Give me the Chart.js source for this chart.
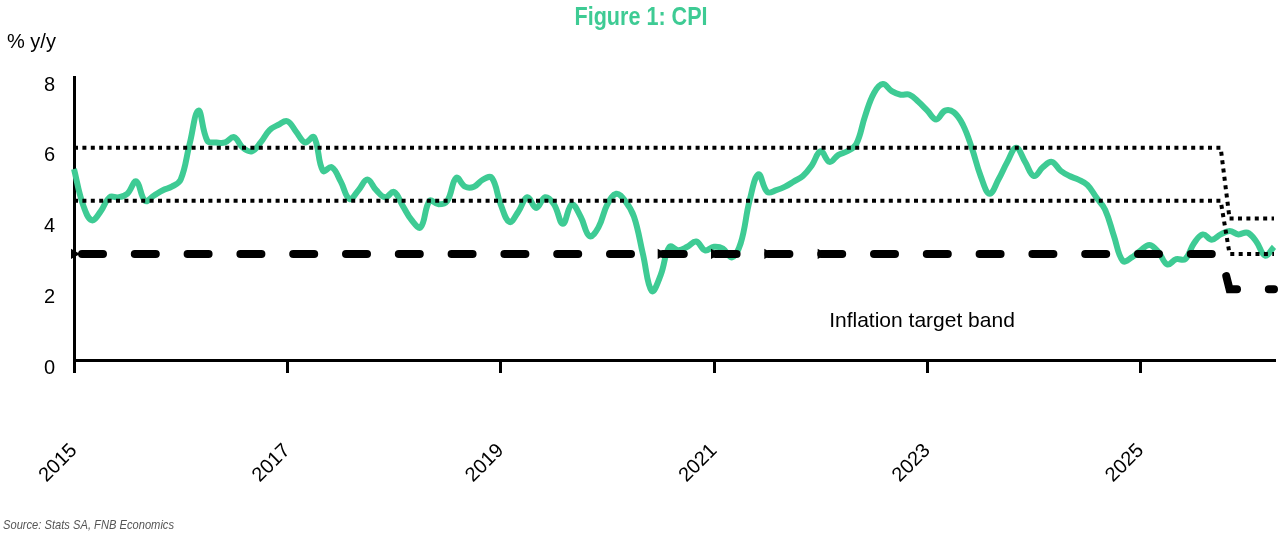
<!DOCTYPE html>
<html>
<head>
<meta charset="utf-8">
<script src="https://cdn.jsdelivr.net/npm/chart.js@4.4.1/dist/chart.umd.min.js"></script>
<style>
  html, body { margin: 0; padding: 0; background: #ffffff; }
  #wrap { width: 1280px; height: 536px; position: relative; }
</style>
</head>
<body>
<div id="wrap"><canvas id="c" width="1280" height="536"></canvas></div>
<script>
// ---- data ----
// monthly observations, month-end dates from Dec 2014 to Mar 2026
const startYear = 2014, startMonth = 12, monthCount = 136;
const months = [];
for (let k = 0; k < monthCount; k++) {
  const m = (startMonth - 1 + k) % 12 + 1;
  const y = startYear + Math.floor((startMonth - 1 + k) / 12);
  months.push(y + '-' + String(m).padStart(2, '0'));
}

const cpi = [
  5.4, 4.4, 3.95, 4.2, 4.6, 4.6, 4.7, 5.05, 4.5, 4.65, 4.8, 4.9,      // Dec14-Nov15
  5.1, 6.1, 7.05, 6.2, 6.15, 6.15, 6.3, 6.0, 5.9, 6.15, 6.5, 6.65,    // Dec15-Nov16
  6.75, 6.45, 6.15, 6.3, 5.35, 5.45, 5.05, 4.55, 4.8, 5.1, 4.8, 4.6,  // Dec16-Nov17
  4.75, 4.35, 3.95, 3.75, 4.5, 4.4, 4.5, 5.15, 4.9, 4.9, 5.1, 5.15,   // Dec17-Nov18
  4.4, 3.9, 4.2, 4.6, 4.3, 4.6, 4.4, 3.85, 4.4, 4.05, 3.5, 3.75,      // Dec18-Nov19
  4.4, 4.7, 4.5, 4.05, 3.0, 1.95, 2.4, 3.2, 3.1, 3.2, 3.35, 3.1,      // Dec19-Nov20
  3.2, 3.15, 2.9, 3.3, 4.5, 5.25, 4.75, 4.8, 4.9, 5.05, 5.2, 5.5,     // Dec20-Nov21
  5.9, 5.6, 5.8, 5.9, 6.1, 6.9, 7.55, 7.8, 7.6, 7.5, 7.5, 7.3,        // Dec21-Nov22
  7.05, 6.8, 7.05, 7.0, 6.65, 6.0, 5.2, 4.7, 5.1, 5.6, 6.0, 5.6,      // Dec22-Nov23
  5.2, 5.45, 5.6, 5.35, 5.2, 5.1, 4.95, 4.6, 4.25, 3.5, 2.8, 2.9,     // Dec23-Nov24
  3.1, 3.25, 3.05, 2.7, 2.85, 2.85, 3.3, 3.55, 3.4, 3.55, 3.65, 3.55, // Dec24-Nov25
  3.6, 3.35, 2.95, 3.2                                                // Dec25-Mar26
];

// inflation target band: old 3-6% (midpoint 4.5%), new 3% target with 2-4% band
const bandDates = ['2014-12', '2025-09', '2025-10', '2026-03'];
const bandUpper = [6, 6, 4, 4];
const bandMid   = [4.5, 4.5, 3, 3];
const bandLower = [3, 3, 2, 2];

// small arrow markers on the lower band line
const markerDates = ['2014-12', '2020-06', '2020-12', '2021-06', '2021-12'];
const markerValues = [3, 3, 3, 3, 3];

const yTicks = [0, 2, 4, 6, 8];
const tickEveryMonths = 24;

const titleText = 'Figure 1: CPI';
const unitText = '% y/y';
const bandText = 'Inflation target band';
const sourceText = 'Source: Stats SA, FNB Economics';

// ---- styles ----
const GREEN = '#3ECB94';
const sans = "'Liberation Sans', Arial, 'DejaVu Sans', sans-serif";

const toXY = (dates, vals) => dates.map((d, k) => ({ x: d, y: vals[k] }));

// draw text horizontally condensed to a target width (keeps it real text)
function condensedText(ctx, text, x, y, targetW, align) {
  const w = ctx.measureText(text).width;
  const sx = Math.min(1, targetW / w);
  ctx.save();
  ctx.translate(x, y);
  ctx.scale(sx, 1);
  ctx.textAlign = align;
  ctx.fillText(text, 0, 0);
  ctx.restore();
}

const textPlugin = {
  id: 'texts',
  afterDraw(chart) {
    const ctx = chart.ctx;
    const xs = chart.scales.x, ys = chart.scales.y;
    ctx.save();
    ctx.textBaseline = 'middle';
    // title
    ctx.fillStyle = GREEN;
    ctx.font = "bold 25px " + sans;
    condensedText(ctx, titleText, 641, 18, 133, 'center');
    // unit
    ctx.fillStyle = '#000';
    ctx.font = "20px " + sans;
    ctx.textAlign = 'left';
    ctx.fillText(unitText, 7, 42);
    // band label
    ctx.font = "21px " + sans;
    ctx.textAlign = 'center';
    ctx.fillText(bandText, xs.getPixelForValue(95.4), ys.getPixelForValue(1.1));
    // source
    ctx.fillStyle = '#555';
    ctx.font = "italic 13px " + sans;
    condensedText(ctx, sourceText, 3, 525, 171, 'left');
    ctx.restore();
  }
};

new Chart(document.getElementById('c'), {
  type: 'line',
  data: {
    labels: months,
    datasets: [
      {
        label: 'CPI',
        data: cpi,
        borderColor: GREEN,
        borderWidth: 6,
        pointRadius: 0,
        tension: 0.4,
        fill: false,
        order: 3
      },
      {
        label: 'Upper band',
        data: toXY(bandDates, bandUpper),
        borderColor: '#000',
        borderWidth: 4,
        borderDash: [4, 4.4],
        borderCapStyle: 'butt',
        pointRadius: 0,
        tension: 0,
        fill: false,
        order: 2
      },
      {
        label: 'Midpoint',
        data: toXY(bandDates, bandMid),
        borderColor: '#000',
        borderWidth: 4,
        borderDash: [4, 4.4],
        borderCapStyle: 'butt',
        pointRadius: 0,
        tension: 0,
        fill: false,
        order: 2
      },
      {
        label: 'Lower band',
        data: toXY(bandDates, bandLower),
        borderColor: '#000',
        borderWidth: 8,
        borderDash: [21, 31.8],
        borderDashOffset: 44.8,
        borderCapStyle: 'round',
        pointRadius: 0,
        tension: 0,
        fill: false,
        order: 1
      },
      {
        label: 'markers',
        data: toXY(markerDates, markerValues),
        showLine: false,
        pointStyle: 'triangle',
        rotation: 90,
        pointRadius: 6,
        pointBackgroundColor: '#000',
        pointBorderWidth: 0,
        order: 0
      }
    ]
  },
  options: {
    responsive: false,
    animation: false,
    events: [],
    layout: { padding: { top: 77, right: 4, left: 0, bottom: 0 } },
    plugins: {
      legend: { display: false },
      tooltip: { enabled: false },
      title: { display: false }
    },
    scales: {
      x: {
        type: 'category',
        afterFit(s) { s.height = 176; s.paddingLeft = 0; s.paddingRight = 0; },
        grid: {
          display: true,
          drawOnChartArea: false,
          drawTicks: true,
          tickLength: 13,
          tickWidth: 3,
          tickColor: '#000',
          color: '#000',
          lineWidth: 3
        },
        border: { display: true, color: '#000', width: 3 },
        ticks: {
          autoSkip: false,
          maxRotation: 45,
          minRotation: 45,
          padding: 66,
          color: '#000',
          font: { family: sans, size: 20 },
          callback(val, idx) {
            if (idx % tickEveryMonths !== 0) return null;
            return String(parseInt(months[idx].slice(0, 4), 10) + 1);
          }
        }
      },
      y: {
        min: 0,
        max: 8,
        afterFit(s) { s.width = 74; s.paddingTop = 0; s.paddingBottom = 0; },
        afterBuildTicks(s) { s.ticks = yTicks.map(v => ({ value: v })); },
        grid: { display: false, drawTicks: false },
        border: { display: true, color: '#000', width: 3 },
        ticks: {
          padding: 19,
          color: '#000',
          font: { family: sans, size: 20, lineHeight: 0.8 },
          callback(v) { return ['', String(v)]; }
        }
      }
    }
  },
  plugins: [textPlugin]
});
</script>
</body>
</html>
